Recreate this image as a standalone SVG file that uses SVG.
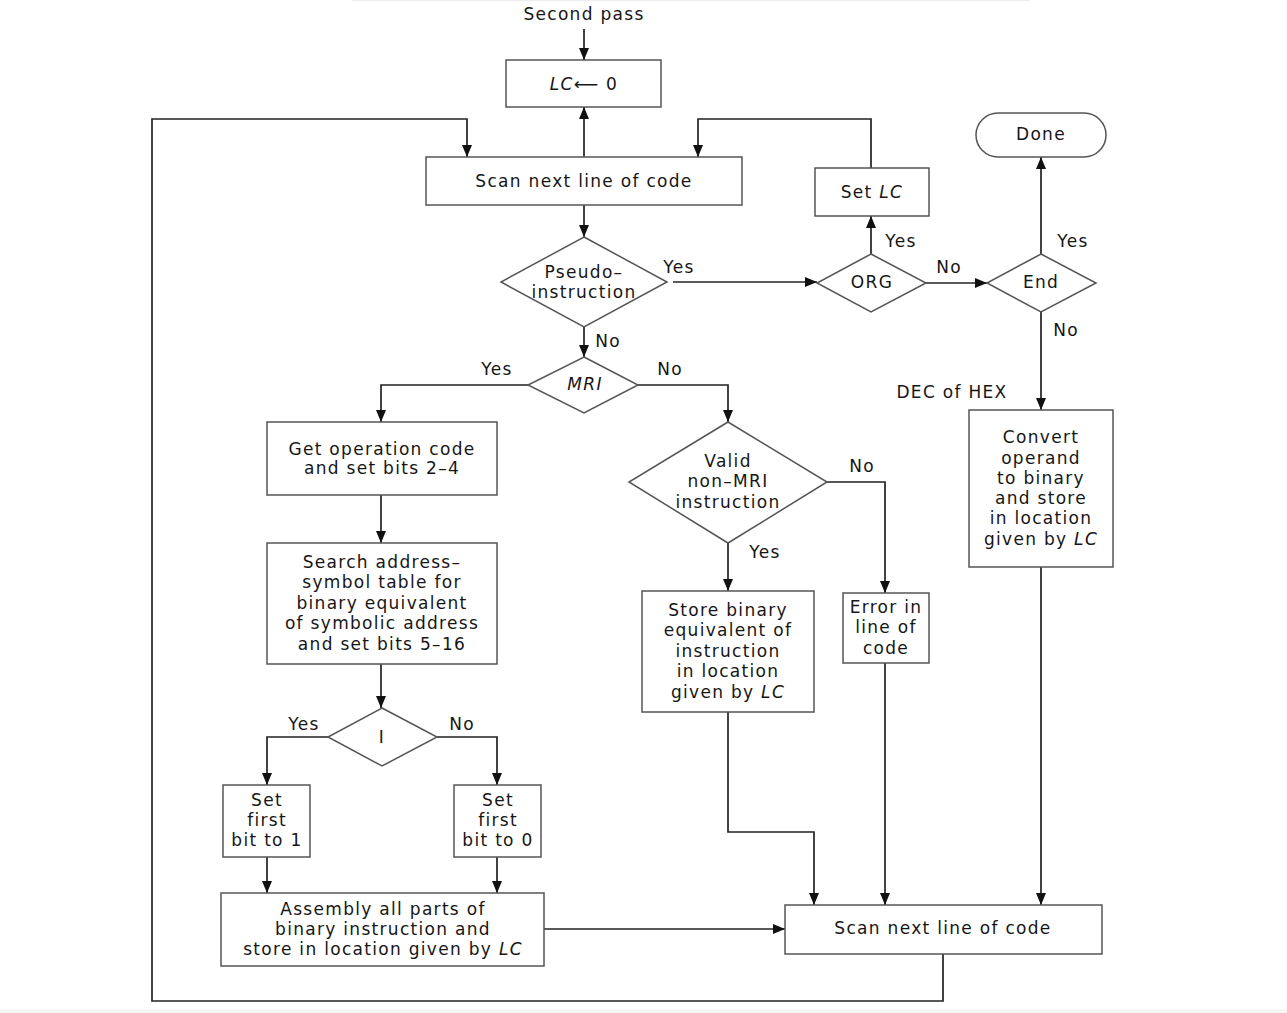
<svg xmlns="http://www.w3.org/2000/svg" width="1287" height="1013" viewBox="0 0 1287 1013">
<style>
text{font-family:"DejaVu Sans",Verdana,sans-serif;font-size:17px;letter-spacing:1.3px;fill:#161616;text-anchor:middle;dominant-baseline:central}
.box{fill:#fff;stroke:#555;stroke-width:1.5}
.arr{fill:none;stroke:#222;stroke-width:1.7;marker-end:url(#ah)}
.it{font-style:italic}
</style>
<defs>
<marker id="ah" viewBox="0 0 12 10" refX="12" refY="5" markerWidth="12" markerHeight="10" orient="auto" markerUnits="userSpaceOnUse">
<path d="M0,0 L12,5 L0,10 z" fill="#111"/>
</marker>
</defs>
<rect x="0" y="0" width="1287" height="1013" fill="#fff"/>
<rect x="0" y="1009" width="1287" height="4" fill="#f6f6f6"/>
<line x1="352" y1="0.5" x2="1030" y2="0.5" stroke="#eee" stroke-width="1"/>

<g id="connectors">
<line class="arr" x1="584" y1="29" x2="584" y2="60"/>
<line class="arr" x1="584" y1="157" x2="584" y2="107"/>
<polyline class="arr" points="943,954 943,1001 152,1001 152,119 467,119 467,157"/>
<polyline class="arr" points="871,168 871,119 698,119 698,157"/>
<line class="arr" x1="584" y1="205" x2="584" y2="237"/>
<line class="arr" x1="673" y1="282" x2="817" y2="282"/>
<line class="arr" x1="871" y1="254" x2="871" y2="216"/>
<line class="arr" x1="926" y1="283" x2="987" y2="283"/>
<line class="arr" x1="1041" y1="254" x2="1041" y2="157"/>
<line class="arr" x1="1041" y1="312" x2="1041" y2="410"/>
<line class="arr" x1="1041" y1="567" x2="1041" y2="905"/>
<line class="arr" x1="584" y1="327" x2="584" y2="357"/>
<polyline class="arr" points="528,385 381,385 381,422"/>
<polyline class="arr" points="638,385 728,385 728,422"/>
<line class="arr" x1="381" y1="495" x2="381" y2="543"/>
<line class="arr" x1="381" y1="664" x2="381" y2="708"/>
<polyline class="arr" points="328,737 267,737 267,785"/>
<polyline class="arr" points="437,737 497,737 497,785"/>
<line class="arr" x1="267" y1="857" x2="267" y2="893"/>
<line class="arr" x1="497" y1="857" x2="497" y2="893"/>
<line class="arr" x1="544" y1="929" x2="785" y2="929"/>
<polyline class="arr" points="827,482 885,482 885,593"/>
<line class="arr" x1="728" y1="543" x2="728" y2="591"/>
<polyline class="arr" points="728,712 728,832 814,832 814,905"/>
<line class="arr" x1="885" y1="663" x2="885" y2="905"/>
<text x="679" y="267">Yes</text>
<text x="901" y="241">Yes</text>
<text x="949" y="267">No</text>
<text x="1073" y="241">Yes</text>
<text x="1066" y="330">No</text>
<text x="952" y="392">DEC of HEX</text>
<text x="608" y="341">No</text>
<text x="497" y="369">Yes</text>
<text x="670" y="369">No</text>
<text x="304" y="724">Yes</text>
<text x="462" y="724">No</text>
<text x="862" y="466">No</text>
<text x="765" y="552">Yes</text>
</g>

<g id="start"><text x="584" y="14">Second pass</text></g>

<g id="lc0">
<rect class="box" x="506" y="60" width="155" height="47"/>
<text x="584" y="84"><tspan class="it">LC</tspan>⟵ 0</text>
</g>

<g id="scan1">
<rect class="box" x="426" y="157" width="316" height="48"/>
<text x="584" y="181">Scan next line of code</text>
</g>

<g id="setlc">
<rect class="box" x="815" y="168" width="114" height="48"/>
<text x="872" y="192">Set <tspan class="it">LC</tspan></text>
</g>

<g id="done">
<rect class="box" x="976" y="113" width="130" height="44" rx="22"/>
<text x="1041" y="134">Done</text>
</g>

<g id="pseudo">
<polygon class="box" points="584,237 667,282 584,327 501,282"/>
<text x="584" y="272">Pseudo–</text>
<text x="584" y="292">instruction</text>
</g>

<g id="org">
<polygon class="box" points="871,254 926,283 871,312 817,283"/>
<text x="872" y="282">ORG</text>
</g>

<g id="end">
<polygon class="box" points="1041,254 1096,283 1041,312 987,283"/>
<text x="1041" y="282">End</text>
</g>

<g id="mri">
<polygon class="box" points="584,357 638,385 584,413 528,385"/>
<text x="585" y="384" class="it">MRI</text>
</g>

<g id="convert">
<rect class="box" x="969" y="410" width="144" height="157"/>
<text x="1041" y="437">Convert</text>
<text x="1041" y="458">operand</text>
<text x="1041" y="478">to binary</text>
<text x="1041" y="498">and store</text>
<text x="1041" y="518">in location</text>
<text x="1041" y="539">given by <tspan class="it">LC</tspan></text>
</g>

<g id="getop">
<rect class="box" x="267" y="422" width="230" height="73"/>
<text x="382" y="449">Get operation code</text>
<text x="382" y="468">and set bits 2–4</text>
</g>

<g id="search">
<rect class="box" x="267" y="543" width="230" height="121"/>
<text x="382" y="562">Search address–</text>
<text x="382" y="582">symbol table for</text>
<text x="382" y="603">binary equivalent</text>
<text x="382" y="623">of symbolic address</text>
<text x="382" y="644">and set bits 5–16</text>
</g>

<g id="valid">
<polygon class="box" points="728,422 827,482 728,543 629,482"/>
<text x="728" y="461">Valid</text>
<text x="728" y="481">non–MRI</text>
<text x="728" y="502">instruction</text>
</g>

<g id="store">
<rect class="box" x="642" y="591" width="172" height="121"/>
<text x="728" y="610">Store binary</text>
<text x="728" y="630">equivalent of</text>
<text x="728" y="651">instruction</text>
<text x="728" y="671">in location</text>
<text x="728" y="692">given by <tspan class="it">LC</tspan></text>
</g>

<g id="error">
<rect class="box" x="843" y="593" width="86" height="70"/>
<text x="886" y="607">Error in</text>
<text x="886" y="627">line of</text>
<text x="886" y="648">code</text>
</g>

<g id="idiamond">
<polygon class="box" points="382,708 437,737 382,766 328,737"/>
<text x="382" y="737">I</text>
</g>

<g id="set1">
<rect class="box" x="223" y="785" width="87" height="72"/>
<text x="267" y="800">Set</text>
<text x="267" y="820">first</text>
<text x="267" y="840">bit to 1</text>
</g>

<g id="set0">
<rect class="box" x="454" y="785" width="87" height="72"/>
<text x="498" y="800">Set</text>
<text x="498" y="820">first</text>
<text x="498" y="840">bit to 0</text>
</g>

<g id="assembly">
<rect class="box" x="221" y="893" width="323" height="73"/>
<text x="383" y="909">Assembly all parts of</text>
<text x="383" y="929">binary instruction and</text>
<text x="383" y="949">store in location given by <tspan class="it">LC</tspan></text>
</g>

<g id="scan2">
<rect class="box" x="785" y="905" width="317" height="49"/>
<text x="943" y="928">Scan next line of code</text>
</g>
</svg>
